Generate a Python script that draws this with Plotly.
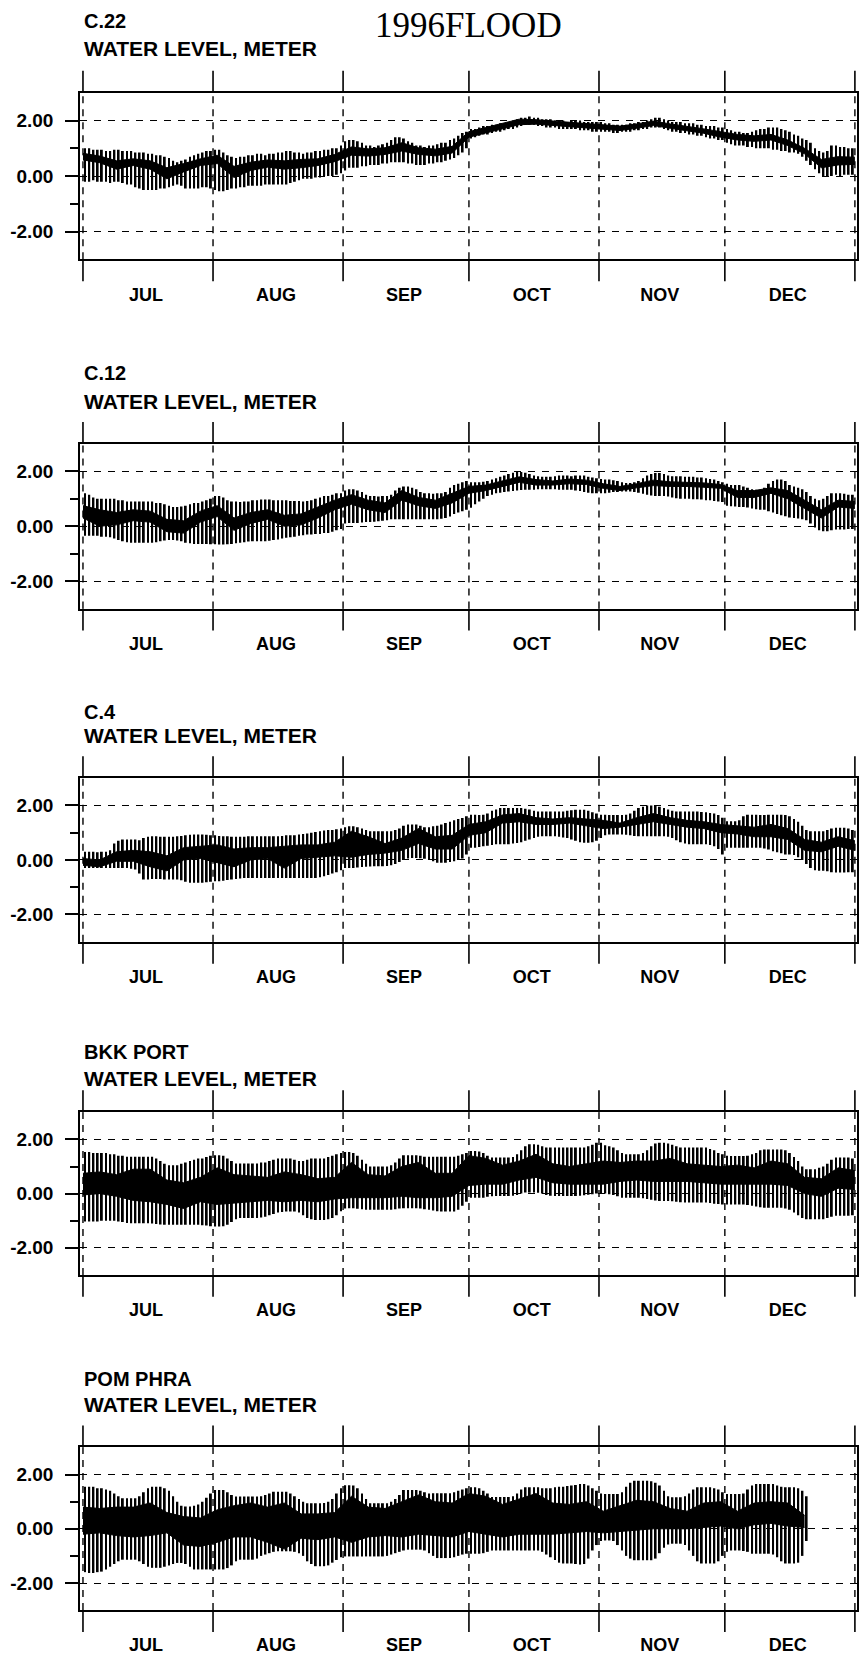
import pandas as pd
import plotly.graph_objects as go

# ---------------- data (daily high / low envelope, 4-day dark core band) ----------------
MONTHS = ["JUL", "AUG", "SEP", "OCT", "NOV", "DEC"]
MONTH_MID = ["1996-07-16", "1996-08-16", "1996-09-15 12:00", "1996-10-16", "1996-11-15 12:00", "1996-12-16"]
MONTH_START = ["1996-07-01", "1996-08-01", "1996-09-01", "1996-10-01", "1996-11-01", "1996-12-01", "1997-01-01"]
YTICKS = [-2, 0, 2]
YTICKTEXT = ["-2.00", "0.00", "2.00"]

c22_hi = [1.0,1.0,0.95,0.95,0.95,0.9,0.9,0.95,0.95,0.9,0.9,0.9,0.85,0.85,0.85,0.8,0.8,0.75,0.75,0.7,0.65,0.55,0.5,0.55,0.6,0.7,0.75,0.8,0.85,0.9,0.9,
          0.95,0.95,0.85,0.75,0.7,0.65,0.7,0.7,0.75,0.75,0.8,0.8,0.75,0.8,0.8,0.85,0.85,0.9,0.9,0.85,0.85,0.8,0.85,0.85,0.9,0.9,0.95,0.95,1.0,1.0,1.1,
          1.25,1.3,1.3,1.25,1.2,1.1,1.1,1.05,1.1,1.15,1.2,1.3,1.4,1.4,1.35,1.25,1.2,1.1,1.1,1.05,1.1,1.1,1.15,1.2,1.2,1.3,1.35,1.45,1.55,1.6,
          1.7,1.7,1.75,1.8,1.8,1.85,1.85,1.9,1.9,1.95,2.0,2.05,2.1,2.1,2.15,2.1,2.1,2.05,2.05,2.05,2.0,2.0,2.0,1.95,2.0,2.0,2.0,1.95,1.95,1.95,1.95,
          1.95,1.9,1.9,1.85,1.85,1.85,1.85,1.9,1.9,1.95,1.95,2.0,2.05,2.1,2.1,2.05,2.0,1.95,1.95,1.95,1.9,1.9,1.9,1.85,1.85,1.8,1.8,1.8,1.75,1.75,
          1.7,1.65,1.6,1.6,1.55,1.55,1.6,1.65,1.7,1.7,1.75,1.75,1.75,1.7,1.65,1.6,1.5,1.45,1.35,1.3,1.2,1.0,0.9,0.85,0.9,1.1,1.1,1.05,1.05,1.0,1.0]
c22_lo = [-0.2,-0.2,-0.15,-0.2,-0.2,-0.2,-0.25,-0.2,-0.2,-0.25,-0.3,-0.3,-0.4,-0.45,-0.5,-0.5,-0.5,-0.5,-0.45,-0.45,-0.4,-0.35,-0.3,-0.35,-0.45,-0.45,-0.45,-0.45,-0.4,-0.4,-0.45,
          -0.5,-0.55,-0.55,-0.5,-0.45,-0.45,-0.4,-0.4,-0.35,-0.35,-0.35,-0.35,-0.3,-0.3,-0.3,-0.3,-0.3,-0.3,-0.25,-0.2,-0.15,-0.1,-0.1,-0.1,-0.05,-0.05,0.0,0.0,0.0,0.05,0.1,
          0.2,0.3,0.3,0.3,0.35,0.35,0.4,0.4,0.4,0.45,0.45,0.5,0.5,0.5,0.5,0.45,0.45,0.4,0.4,0.4,0.45,0.45,0.5,0.5,0.55,0.6,0.65,0.75,0.85,1.0,
          1.35,1.4,1.45,1.5,1.5,1.55,1.6,1.6,1.65,1.7,1.7,1.75,1.8,1.85,1.85,1.85,1.8,1.8,1.75,1.75,1.75,1.7,1.7,1.7,1.7,1.7,1.65,1.65,1.65,1.6,1.6,
          1.6,1.6,1.6,1.55,1.55,1.6,1.6,1.6,1.65,1.65,1.7,1.7,1.75,1.75,1.75,1.7,1.65,1.6,1.6,1.55,1.55,1.5,1.5,1.45,1.45,1.4,1.35,1.35,1.3,1.3,
          1.2,1.15,1.1,1.1,1.1,1.05,1.05,1.0,1.0,1.0,1.0,0.95,0.95,0.9,0.9,0.85,0.85,0.8,0.7,0.55,0.4,0.25,0.1,0.0,0.0,0.0,0.05,0.0,0.05,0.05,0.05]
c22_core_hi = [0.82,0.72,0.55,0.62,0.55,0.3,0.45,0.62,0.75,0.35,0.5,0.58,0.55,0.6,0.62,0.78,1.05,0.98,1.02,1.2,1.02,0.97,1.07,
               1.6,1.75,1.9,2.05,2.03,1.98,1.93,1.88,1.83,1.8,1.88,1.98,1.88,1.8,1.7,1.6,1.5,1.45,1.5,1.3,1.0,0.6,0.7,0.68]
c22_core_lo = [0.58,0.48,0.25,0.38,0.25,-0.1,0.15,0.38,0.45,-0.05,0.2,0.32,0.25,0.3,0.38,0.52,0.75,0.72,0.78,0.9,0.78,0.73,0.83,
               1.4,1.55,1.7,1.85,1.87,1.82,1.77,1.72,1.67,1.64,1.72,1.82,1.72,1.64,1.54,1.4,1.3,1.25,1.3,1.1,0.8,0.3,0.4,0.42]

c12_hi = [1.2,1.15,1.05,1.0,1.0,1.0,1.0,1.0,0.95,0.95,0.9,0.9,0.9,0.9,0.9,0.9,0.9,0.85,0.85,0.8,0.75,0.7,0.7,0.72,0.75,0.8,0.85,0.85,0.9,0.95,1.0,
          1.1,1.1,1.05,0.95,0.9,0.9,0.88,0.9,0.9,0.95,0.95,0.97,0.97,0.97,0.95,0.95,0.95,0.95,0.92,0.92,0.92,0.9,0.92,0.95,1.0,1.05,1.1,1.1,1.15,1.2,1.2,
          1.3,1.35,1.35,1.3,1.25,1.15,1.1,1.1,1.08,1.1,1.1,1.15,1.3,1.4,1.45,1.45,1.4,1.35,1.25,1.2,1.2,1.18,1.2,1.2,1.25,1.4,1.5,1.55,1.6,1.65,
          1.6,1.6,1.6,1.62,1.65,1.7,1.75,1.8,1.85,1.9,1.95,2.0,1.98,1.95,1.9,1.85,1.82,1.8,1.8,1.8,1.82,1.85,1.85,1.85,1.82,1.85,1.85,1.85,1.8,1.78,1.75,
          1.72,1.7,1.7,1.68,1.65,1.6,1.58,1.58,1.6,1.65,1.75,1.85,1.9,1.94,1.94,1.9,1.85,1.82,1.82,1.82,1.8,1.8,1.8,1.78,1.78,1.75,1.72,1.7,1.65,1.6,
          1.55,1.5,1.5,1.5,1.45,1.4,1.35,1.33,1.33,1.4,1.55,1.65,1.7,1.7,1.65,1.5,1.45,1.4,1.35,1.25,1.1,1.0,0.95,1.0,1.1,1.2,1.2,1.2,1.18,1.15,1.15]
c12_lo = [-0.35,-0.35,-0.35,-0.35,-0.38,-0.38,-0.4,-0.45,-0.5,-0.55,-0.58,-0.6,-0.6,-0.6,-0.6,-0.6,-0.6,-0.58,-0.55,-0.52,-0.5,-0.5,-0.52,-0.55,-0.6,-0.62,-0.65,-0.65,-0.65,-0.65,-0.66,
          -0.66,-0.67,-0.67,-0.66,-0.65,-0.62,-0.6,-0.58,-0.56,-0.55,-0.55,-0.55,-0.55,-0.53,-0.5,-0.48,-0.45,-0.42,-0.4,-0.38,-0.35,-0.33,-0.3,-0.3,-0.28,-0.28,-0.25,-0.25,-0.2,-0.15,-0.1,
          0.1,0.12,0.12,0.12,0.14,0.15,0.15,0.16,0.18,0.2,0.22,0.25,0.25,0.25,0.25,0.25,0.25,0.25,0.25,0.25,0.25,0.25,0.25,0.27,0.3,0.35,0.45,0.5,0.55,0.6,
          0.67,0.8,0.9,1.0,1.1,1.15,1.2,1.22,1.25,1.27,1.28,1.3,1.32,1.33,1.33,1.33,1.35,1.35,1.35,1.35,1.35,1.33,1.33,1.33,1.33,1.3,1.28,1.25,1.22,1.2,1.2,
          1.2,1.2,1.22,1.25,1.25,1.27,1.27,1.27,1.25,1.22,1.18,1.15,1.12,1.1,1.1,1.1,1.08,1.05,1.02,1.0,1.0,1.0,0.98,0.98,0.97,0.95,0.95,0.92,0.9,0.88,
          0.75,0.73,0.72,0.7,0.7,0.68,0.65,0.62,0.6,0.6,0.55,0.5,0.45,0.4,0.36,0.32,0.3,0.28,0.25,0.22,0.1,-0.05,-0.15,-0.18,-0.18,-0.15,-0.12,-0.12,-0.12,-0.1,-0.1]
c12_core_hi = [0.75,0.6,0.5,0.6,0.55,0.25,0.2,0.55,0.75,0.3,0.5,0.6,0.4,0.45,0.7,0.95,1.15,0.95,0.85,1.3,1.05,0.95,1.2,
               1.45,1.5,1.65,1.8,1.7,1.65,1.72,1.68,1.55,1.45,1.55,1.68,1.62,1.6,1.58,1.52,1.3,1.3,1.4,1.3,0.95,0.6,0.95,0.9]
c12_core_lo = [0.3,0.0,0.05,0.2,0.15,-0.2,-0.25,0.15,0.35,-0.15,0.1,0.25,0.0,0.05,0.3,0.6,0.8,0.6,0.5,0.95,0.75,0.65,0.85,
               1.2,1.3,1.45,1.6,1.5,1.5,1.55,1.52,1.38,1.3,1.4,1.48,1.45,1.45,1.42,1.38,1.05,1.05,1.2,1.0,0.65,0.3,0.7,0.65]

c4_hi = [0.3,0.3,0.3,0.28,0.3,0.3,0.35,0.6,0.7,0.75,0.75,0.75,0.75,0.72,0.8,0.85,0.87,0.87,0.85,0.85,0.85,0.85,0.87,0.88,0.9,0.92,0.93,0.93,0.93,0.92,0.9,
         0.9,0.88,0.87,0.87,0.85,0.85,0.85,0.85,0.87,0.87,0.87,0.87,0.87,0.87,0.87,0.87,0.88,0.9,0.9,0.9,0.93,0.95,0.97,1.0,1.02,1.05,1.08,1.1,1.1,1.12,1.15,
         1.2,1.23,1.23,1.2,1.15,1.1,1.05,1.05,1.05,1.05,1.05,1.05,1.1,1.15,1.25,1.3,1.3,1.3,1.25,1.2,1.2,1.23,1.25,1.3,1.35,1.4,1.45,1.5,1.54,1.6,
         1.66,1.66,1.65,1.66,1.7,1.8,1.85,1.9,1.9,1.9,1.9,1.9,1.9,1.88,1.85,1.8,1.78,1.78,1.78,1.78,1.78,1.78,1.78,1.8,1.82,1.84,1.84,1.84,1.8,1.75,1.7,
         1.66,1.66,1.65,1.65,1.65,1.65,1.66,1.7,1.8,1.9,1.95,2.0,2.0,1.98,1.95,1.9,1.85,1.8,1.78,1.78,1.78,1.78,1.78,1.78,1.76,1.75,1.72,1.7,1.65,1.55,
         1.42,1.42,1.42,1.45,1.6,1.66,1.66,1.66,1.65,1.65,1.66,1.66,1.66,1.66,1.65,1.6,1.5,1.4,1.25,1.1,1.05,1.05,1.05,1.05,1.1,1.15,1.18,1.18,1.18,1.15,1.1]
c4_lo = [-0.3,-0.3,-0.3,-0.3,-0.3,-0.3,-0.3,-0.3,-0.3,-0.3,-0.3,-0.32,-0.35,-0.5,-0.72,-0.72,-0.7,-0.7,-0.7,-0.72,-0.72,-0.72,-0.72,-0.75,-0.8,-0.84,-0.84,-0.84,-0.84,-0.82,-0.8,
         -0.78,-0.78,-0.76,-0.74,-0.72,-0.7,-0.68,-0.66,-0.66,-0.66,-0.66,-0.66,-0.66,-0.66,-0.66,-0.66,-0.66,-0.66,-0.66,-0.66,-0.66,-0.66,-0.66,-0.66,-0.66,-0.64,-0.6,-0.55,-0.5,-0.45,-0.38,
         -0.3,-0.3,-0.3,-0.28,-0.26,-0.25,-0.24,-0.23,-0.23,-0.23,-0.22,-0.2,-0.15,-0.08,0.0,0.05,0.07,0.07,0.06,0.04,0.0,-0.05,-0.1,-0.1,-0.1,-0.08,-0.05,0.0,0.05,0.2,
         0.45,0.45,0.47,0.5,0.52,0.55,0.57,0.57,0.57,0.57,0.6,0.62,0.65,0.7,0.75,0.8,0.85,0.87,0.87,0.87,0.87,0.85,0.82,0.8,0.75,0.7,0.65,0.63,0.63,0.65,0.7,
         0.8,0.9,0.93,0.93,0.93,0.93,0.92,0.9,0.88,0.87,0.87,0.87,0.87,0.87,0.87,0.87,0.85,0.8,0.72,0.65,0.6,0.57,0.57,0.57,0.57,0.57,0.55,0.5,0.4,0.2,
         0.45,0.45,0.45,0.45,0.45,0.45,0.45,0.45,0.45,0.42,0.38,0.32,0.28,0.24,0.2,0.2,0.18,0.1,0.0,-0.15,-0.3,-0.38,-0.4,-0.4,-0.42,-0.45,-0.46,-0.46,-0.46,-0.45,-0.45]
c4_core_hi = [0.05,0.0,0.3,0.35,0.3,0.15,0.45,0.5,0.55,0.4,0.45,0.45,0.5,0.55,0.55,0.65,1.05,0.85,0.6,0.8,1.15,0.85,0.9,
              1.3,1.4,1.65,1.7,1.55,1.5,1.55,1.5,1.45,1.35,1.55,1.7,1.55,1.45,1.4,1.3,1.25,1.2,1.3,1.15,0.75,0.65,0.85,0.7]
c4_core_lo = [-0.2,-0.25,-0.05,-0.05,-0.25,-0.4,0.0,0.05,-0.1,-0.25,0.0,0.05,-0.3,0.05,0.1,0.15,0.1,0.2,0.25,0.35,0.6,0.4,0.4,
              0.9,1.0,1.35,1.4,1.3,1.3,1.35,1.25,1.15,1.2,1.3,1.4,1.3,1.2,1.15,1.0,0.95,0.85,0.85,0.75,0.35,0.3,0.5,0.35]

bkk_hi = [1.54,1.54,1.5,1.5,1.5,1.5,1.45,1.45,1.4,1.4,1.36,1.36,1.36,1.36,1.36,1.36,1.36,1.3,1.2,1.1,1.05,1.05,1.05,1.1,1.15,1.2,1.25,1.3,1.3,1.35,1.4,
          1.42,1.42,1.4,1.3,1.2,1.11,1.11,1.11,1.11,1.11,1.11,1.15,1.15,1.2,1.25,1.3,1.3,1.3,1.3,1.25,1.2,1.2,1.25,1.3,1.3,1.3,1.3,1.35,1.4,1.45,1.5,
          1.54,1.54,1.5,1.4,1.25,1.1,1.0,1.0,1.0,1.0,1.0,1.05,1.15,1.3,1.42,1.42,1.42,1.42,1.4,1.36,1.36,1.36,1.36,1.36,1.36,1.36,1.36,1.4,1.45,1.5,
          1.57,1.57,1.55,1.5,1.4,1.33,1.33,1.33,1.33,1.33,1.35,1.45,1.6,1.75,1.82,1.82,1.8,1.75,1.7,1.7,1.7,1.7,1.7,1.7,1.7,1.7,1.7,1.7,1.75,1.8,1.88,
          1.88,1.78,1.75,1.7,1.6,1.5,1.45,1.45,1.45,1.45,1.5,1.6,1.75,1.85,1.88,1.88,1.85,1.8,1.75,1.7,1.7,1.7,1.7,1.7,1.7,1.7,1.65,1.6,1.5,1.45,
          1.4,1.39,1.39,1.39,1.39,1.4,1.45,1.5,1.6,1.63,1.63,1.63,1.63,1.63,1.6,1.5,1.35,1.2,1.0,0.9,0.9,0.9,0.95,1.0,1.1,1.25,1.33,1.33,1.33,1.33,1.3]
bkk_lo = [-1.03,-1.03,-1.03,-1.03,-1.0,-1.0,-1.0,-1.0,-1.03,-1.05,-1.08,-1.09,-1.09,-1.09,-1.09,-1.09,-1.1,-1.12,-1.14,-1.15,-1.15,-1.15,-1.15,-1.15,-1.15,-1.15,-1.15,-1.15,-1.17,-1.18,-1.2,
          -1.21,-1.21,-1.2,-1.15,-1.05,-0.95,-0.9,-0.9,-0.9,-0.9,-0.9,-0.88,-0.85,-0.8,-0.75,-0.7,-0.68,-0.66,-0.66,-0.66,-0.7,-0.8,-0.9,-0.95,-0.97,-0.97,-0.97,-0.95,-0.9,-0.8,-0.65,
          -0.55,-0.54,-0.54,-0.56,-0.58,-0.6,-0.6,-0.6,-0.6,-0.6,-0.6,-0.6,-0.58,-0.55,-0.54,-0.54,-0.54,-0.54,-0.55,-0.58,-0.6,-0.62,-0.65,-0.66,-0.66,-0.66,-0.66,-0.6,-0.45,-0.3,
          -0.15,-0.15,-0.15,-0.15,-0.12,-0.1,-0.09,-0.09,-0.09,-0.09,-0.08,-0.05,0.0,0.04,0.04,0.04,0.03,0.0,-0.05,-0.08,-0.09,-0.09,-0.09,-0.09,-0.09,-0.09,-0.08,-0.06,-0.04,-0.02,0.0,
          0.0,0.0,-0.02,-0.05,-0.1,-0.15,-0.15,-0.15,-0.15,-0.15,-0.17,-0.2,-0.23,-0.25,-0.27,-0.27,-0.27,-0.28,-0.3,-0.32,-0.33,-0.33,-0.33,-0.33,-0.33,-0.33,-0.35,-0.37,-0.38,-0.4,
          -0.4,-0.4,-0.4,-0.4,-0.4,-0.42,-0.45,-0.48,-0.5,-0.52,-0.52,-0.52,-0.52,-0.52,-0.55,-0.6,-0.7,-0.8,-0.9,-0.95,-0.95,-0.95,-0.95,-0.95,-0.9,-0.85,-0.82,-0.82,-0.82,-0.82,-0.8]
bkk_core_hi = [0.75,0.8,0.7,0.9,0.9,0.5,0.4,0.6,0.95,0.7,0.65,0.6,0.8,0.7,0.55,0.6,1.15,0.7,0.65,1.0,1.15,0.75,0.75,
               1.4,1.3,1.05,1.2,1.45,1.1,1.0,1.1,1.2,1.15,1.2,1.2,1.3,1.1,1.05,1.0,1.05,0.95,1.2,1.1,0.6,0.55,0.95,0.85]
bkk_core_lo = [-0.05,0.0,-0.1,-0.25,-0.3,-0.4,-0.55,-0.3,-0.4,-0.35,-0.3,-0.25,-0.3,-0.25,-0.3,-0.2,-0.15,-0.15,-0.15,-0.1,-0.15,-0.15,-0.1,
               0.3,0.35,0.35,0.5,0.6,0.4,0.35,0.35,0.35,0.45,0.5,0.45,0.45,0.45,0.4,0.35,0.35,0.35,0.35,0.3,0.0,-0.1,0.2,0.15]

pom_hi = [1.55,1.55,1.55,1.5,1.5,1.45,1.4,1.3,1.2,1.13,1.13,1.13,1.13,1.2,1.35,1.5,1.55,1.55,1.55,1.5,1.4,1.2,1.0,0.85,0.82,0.82,0.85,0.9,1.0,1.15,1.3,
          1.43,1.43,1.43,1.35,1.25,1.19,1.19,1.19,1.19,1.19,1.19,1.2,1.25,1.3,1.37,1.37,1.37,1.37,1.3,1.2,1.1,1.0,0.94,0.94,0.94,0.94,0.95,1.0,1.1,1.3,1.5,
          1.61,1.61,1.6,1.5,1.3,1.1,0.94,0.94,0.94,0.94,0.94,1.0,1.1,1.25,1.43,1.43,1.43,1.43,1.4,1.35,1.3,1.31,1.31,1.31,1.31,1.31,1.35,1.4,1.45,1.5,
          1.53,1.53,1.5,1.4,1.3,1.17,1.17,1.17,1.17,1.17,1.2,1.3,1.45,1.53,1.53,1.53,1.53,1.5,1.5,1.5,1.53,1.55,1.55,1.58,1.6,1.62,1.65,1.65,1.6,1.5,1.4,
          1.3,1.28,1.28,1.28,1.28,1.35,1.55,1.7,1.77,1.77,1.77,1.77,1.75,1.7,1.6,1.4,1.2,1.16,1.16,1.16,1.2,1.3,1.45,1.53,1.53,1.53,1.53,1.5,1.45,1.35,
          1.28,1.28,1.28,1.28,1.3,1.45,1.6,1.65,1.65,1.65,1.65,1.65,1.6,1.55,1.53,1.53,1.53,1.5,1.4,1.2]
pom_lo = [-1.6,-1.63,-1.63,-1.6,-1.58,-1.5,-1.4,-1.3,-1.2,-1.14,-1.14,-1.14,-1.14,-1.2,-1.3,-1.4,-1.44,-1.44,-1.44,-1.4,-1.35,-1.3,-1.26,-1.26,-1.3,-1.4,-1.5,-1.5,-1.5,-1.5,-1.5,
          -1.5,-1.5,-1.5,-1.45,-1.35,-1.2,-1.14,-1.14,-1.14,-1.14,-1.1,-1.0,-0.95,-0.9,-0.85,-0.83,-0.83,-0.83,-0.83,-0.85,-0.9,-1.0,-1.2,-1.3,-1.38,-1.38,-1.38,-1.35,-1.25,-1.15,-1.05,
          -1.02,-1.02,-1.02,-1.02,-1.02,-1.02,-1.02,-1.02,-1.02,-1.02,-1.0,-0.95,-0.9,-0.85,-0.8,-0.77,-0.77,-0.77,-0.77,-0.8,-0.9,-1.0,-1.08,-1.08,-1.08,-1.08,-1.05,-1.0,-0.95,-0.92,
          -0.92,-0.92,-0.92,-0.9,-0.85,-0.8,-0.8,-0.8,-0.8,-0.8,-0.8,-0.8,-0.8,-0.8,-0.8,-0.8,-0.8,-0.85,-0.95,-1.05,-1.15,-1.25,-1.28,-1.28,-1.28,-1.3,-1.32,-1.3,-1.1,-0.8,-0.6,
          -0.45,-0.43,-0.43,-0.45,-0.6,-0.8,-1.0,-1.1,-1.16,-1.16,-1.16,-1.16,-1.16,-1.1,-0.9,-0.7,-0.58,-0.55,-0.55,-0.55,-0.6,-0.8,-1.0,-1.2,-1.28,-1.28,-1.28,-1.28,-1.2,-1.0,
          -0.85,-0.8,-0.8,-0.8,-0.82,-0.85,-0.92,-0.92,-0.92,-0.92,-0.92,-0.95,-1.05,-1.2,-1.28,-1.28,-1.28,-1.25,-1.0,-0.45]
pom_core_hi = [0.8,0.75,0.8,0.8,0.95,0.6,0.45,0.4,0.7,0.85,0.95,0.8,0.95,0.55,0.55,0.6,1.2,0.8,0.75,1.0,1.25,1.0,0.95,
               1.3,1.2,0.9,1.1,1.3,0.95,0.9,1.0,0.65,0.85,1.05,1.0,0.75,0.65,0.95,1.0,0.65,0.95,1.0,0.95,0.5]
pom_core_lo = [-0.2,-0.15,-0.25,-0.3,-0.25,-0.15,-0.6,-0.65,-0.5,-0.3,-0.3,-0.5,-0.75,-0.35,-0.4,-0.3,-0.5,-0.3,-0.25,-0.3,-0.2,-0.25,-0.3,
               -0.1,-0.2,-0.3,-0.2,-0.2,-0.2,-0.15,-0.1,-0.15,-0.1,-0.05,0.0,0.0,0.0,0.05,0.1,0.0,0.15,0.2,0.1,0.05]

# ---------------- layout helpers ----------------
W, H = 863, 1655
panels = [
    dict(name="C.22", hi=c22_hi, lo=c22_lo, chi=c22_core_hi, clo=c22_core_lo, top=93, bot=260, t1=21, t2=49),
    dict(name="C.12", hi=c12_hi, lo=c12_lo, chi=c12_core_hi, clo=c12_core_lo, top=445, bot=610, t1=374, t2=402),
    dict(name="C.4", hi=c4_hi, lo=c4_lo, chi=c4_core_hi, clo=c4_core_lo, top=780, bot=944, t1=714, t2=737),
    dict(name="BKK PORT", hi=bkk_hi, lo=bkk_lo, chi=bkk_core_hi, clo=bkk_core_lo, top=1115, bot=1278, t1=1055, t2=1081),
    dict(name="POM PHRA", hi=pom_hi, lo=pom_lo, chi=pom_core_hi, clo=pom_core_lo, top=1451, bot=1614, t1=1382, t2=1408),
]

FONT = "Liberation Sans, Arial, sans-serif"
fig = go.Figure()
layout = dict(width=W, height=H, margin=dict(l=0, r=0, t=0, b=0), paper_bgcolor="white",
              plot_bgcolor="white", showlegend=False)
shapes, annotations = [], []

for i, p in enumerate(panels, start=1):
    sfx = "" if i == 1 else str(i)
    xa, ya = "x" + sfx, "y" + sfx
    n = min(len(p["hi"]), len(p["lo"]))
    days = pd.date_range("1996-07-01 12:00", periods=n, freq="D")
    hi, lo = p["hi"][:n], p["lo"][:n]
    fig.add_trace(go.Bar(x=days, y=[h - l for h, l in zip(hi, lo)], base=lo,
                         width=0.45 * 86400000, marker=dict(color="black", line=dict(width=0)),
                         xaxis=xa, yaxis=ya, hoverinfo="skip"))
    m = min(len(p["chi"]), len(p["clo"]))
    cd = pd.date_range("1996-07-01", periods=m, freq="4D")
    fig.add_trace(go.Scatter(x=cd, y=p["clo"][:m], mode="lines", line=dict(color="black", width=1),
                             xaxis=xa, yaxis=ya, hoverinfo="skip"))
    fig.add_trace(go.Scatter(x=cd, y=p["chi"][:m], mode="lines", fill="tonexty", fillcolor="black",
                             line=dict(color="black", width=1), xaxis=xa, yaxis=ya, hoverinfo="skip"))

    h_px = p["bot"] - p["top"]
    layout["xaxis" + sfx] = dict(
        domain=[80 / W, 857 / W], range=["1996-06-30 07:00", "1997-01-01 12:00"], type="date",
        anchor=ya, tickvals=MONTH_MID, ticktext=MONTHS, ticks="", showgrid=False, zeroline=False,
        showline=True, linecolor="black", linewidth=1.5, mirror=True, ticklabelstandoff=18,
        tickfont=dict(family=FONT, size=18, color="black", weight="bold"), fixedrange=True)
    layout["yaxis" + sfx] = dict(
        domain=[1 - p["bot"] / H, 1 - p["top"] / H], range=[-3, 3], anchor=xa,
        tickvals=YTICKS, ticktext=YTICKTEXT, ticks="outside", ticklen=13, tickwidth=1.5,
        tickcolor="black", ticklabelstandoff=8,
        tickfont=dict(family=FONT, size=19, color="black", weight="bold"),
        showgrid=True, gridcolor="black", griddash="7px,7px", gridwidth=1, zeroline=False,
        showline=True, linecolor="black", linewidth=1.5, mirror=True,
        minor=dict(tickvals=[-1, 1], ticks="outside", ticklen=8, tickcolor="black", showgrid=False),
        fixedrange=True)

    ext = 22 / h_px
    for d in MONTH_START:
        shapes.append(dict(type="line", xref=xa, yref=ya + " domain", x0=d, x1=d, y0=1, y1=1 + ext,
                           line=dict(color="black", width=1.6)))
        shapes.append(dict(type="line", xref=xa, yref=ya + " domain", x0=d, x1=d, y0=0, y1=1,
                           line=dict(color="black", width=1.4, dash="7px,6px")))
        shapes.append(dict(type="line", xref=xa, yref=ya + " domain", x0=d, x1=d, y0=-ext, y1=0,
                           line=dict(color="black", width=1.6)))

    annotations.append(dict(text=p["name"], xref="paper", yref="paper", x=82 / W, y=1 - p["t1"] / H,
                            xanchor="left", yanchor="middle", showarrow=False,
                            font=dict(family=FONT, size=20, color="black", weight="bold")))
    annotations.append(dict(text="WATER LEVEL, METER", xref="paper", yref="paper", x=82 / W,
                            y=1 - p["t2"] / H, xanchor="left", yanchor="middle", showarrow=False,
                            font=dict(family=FONT, size=21, color="black", weight="bold")))

annotations.append(dict(text="1996FLOOD", xref="paper", yref="paper", x=468 / W, y=1 - 26 / H,
                        xanchor="center", yanchor="middle", showarrow=False,
                        font=dict(family="Liberation Serif, Times New Roman, serif", size=35, color="black")))

layout["shapes"] = shapes
layout["annotations"] = annotations
layout["barmode"] = "overlay"
fig.update_layout(**layout)
fig.write_html("out.html")
